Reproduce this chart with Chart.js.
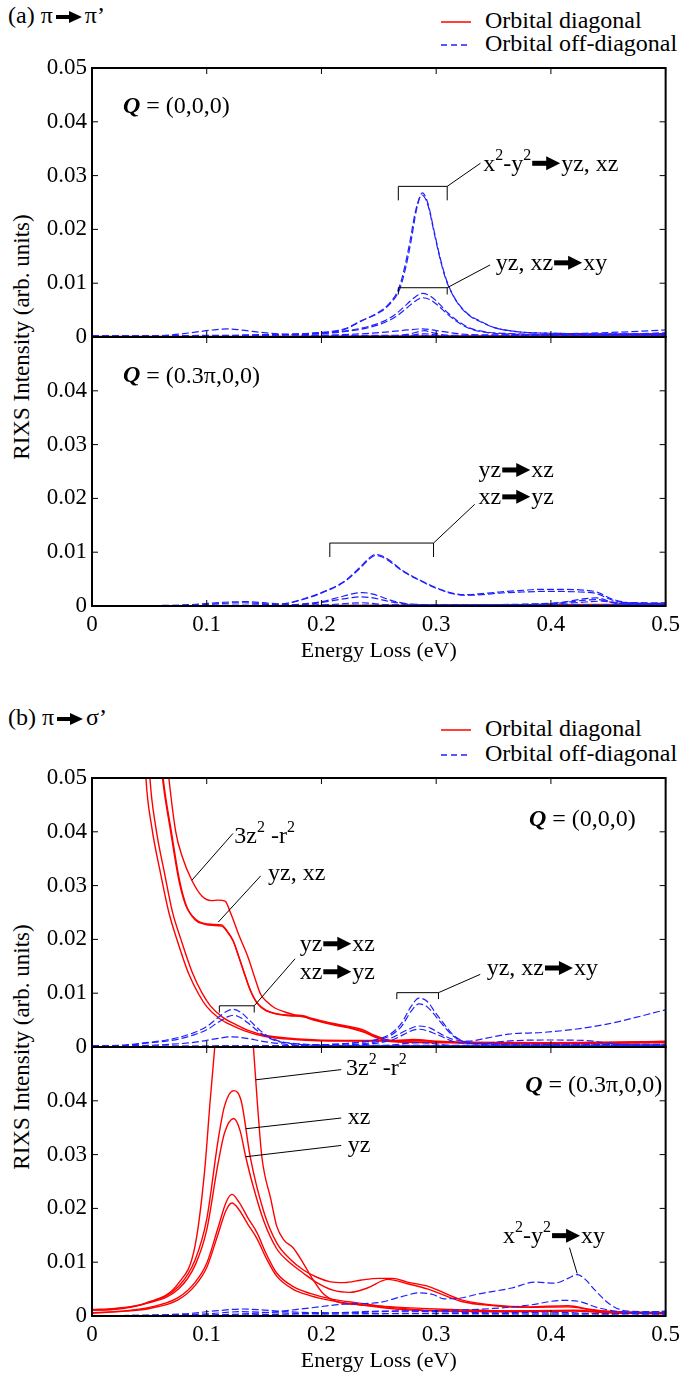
<!DOCTYPE html>
<html>
<head>
<meta charset="utf-8">
<script src="https://cdn.jsdelivr.net/npm/chart.js@4.4.1/dist/chart.umd.min.js"></script>
<style>
  body { margin: 0; background: #fff; width: 685px; height: 1376px; overflow: hidden; position: relative;
         font-family: 'Liberation Serif', 'Times New Roman', serif; color: #000; }
  .panel { position: absolute; left: 0; width: 685px; height: 668px; }
  .ttl { position: absolute; left: 8px; font-size: 24px; line-height: 24px; white-space: nowrap; }
  .ttl svg { vertical-align: -1px; margin: 0 2px; }
  .leg { position: absolute; left: 441px; font-size: 24px; line-height: 24px; white-space: nowrap; }
  .leg svg { vertical-align: middle; margin-right: 14px; }
  .ylab { position: absolute; left: 22px; font-size: 23px; white-space: nowrap;
          transform: translate(-50%, -50%) rotate(-90deg); }
</style>
</head>
<body>

<div class="ttl" style="top:3px">(a) π<svg width="28" height="14" viewBox="0 0 28 14"><rect x="1" y="5" width="15" height="4"/><polygon points="14,1 27,7 14,13"/></svg>π’</div>
<div class="leg" style="top:8px"><svg width="30" height="4"><line x1="0" y1="2" x2="30" y2="2" stroke="#ff0000" stroke-width="1.5"/></svg>Orbital diagonal</div>
<div class="leg" style="top:31px"><svg width="30" height="4"><line x1="0" y1="2" x2="30" y2="2" stroke="#2020ff" stroke-width="1.5" stroke-dasharray="6,4"/></svg>Orbital off-diagonal</div>
<div class="ylab" style="top:337px">RIXS Intensity (arb. units)</div>
<div class="panel" style="top:0"><canvas id="chartA" width="685" height="668"></canvas></div>

<div class="ttl" style="top:705px">(b) π<svg width="28" height="14" viewBox="0 0 28 14"><rect x="1" y="5" width="15" height="4"/><polygon points="14,1 27,7 14,13"/></svg>σ’</div>
<div class="leg" style="top:716px"><svg width="30" height="4"><line x1="0" y1="2" x2="30" y2="2" stroke="#ff0000" stroke-width="1.5"/></svg>Orbital diagonal</div>
<div class="leg" style="top:741px"><svg width="30" height="4"><line x1="0" y1="2" x2="30" y2="2" stroke="#2020ff" stroke-width="1.5" stroke-dasharray="6,4"/></svg>Orbital off-diagonal</div>
<div class="ylab" style="top:1047px">RIXS Intensity (arb. units)</div>
<div class="panel" style="top:710px"><canvas id="chartB" width="685" height="668"></canvas></div>

<script>
// tick labels
const xTickLabels = ['0', '0.1', '0.2', '0.3', '0.4', '0.5'];
const yTickLabels = ['0', '0.01', '0.02', '0.03', '0.04', '0.05'];

// ---------- (a) pi -> pi', Q = (0,0,0) ----------   [energy, intensity]
const aTopOff1 = [[0,0.0002],[0.1,0.0003],[0.15,0.0004],[0.2,0.00085],[0.22,0.0015],[0.2355,0.0031],[0.25,0.0045],[0.26,0.0062],[0.268,0.0088],[0.273,0.0125],[0.278,0.0177],[0.283,0.0238],[0.288,0.0268],[0.293,0.0247],[0.298,0.0199],[0.303,0.0151],[0.308,0.0112],[0.313,0.0085],[0.32,0.006],[0.33,0.0039],[0.337,0.0031],[0.35,0.0018],[0.37,0.001],[0.4,0.0007],[0.45,0.0006],[0.5,0.0006]];
const aTopOff2 = [[0,0.00015],[0.1,0.00025],[0.15,0.00035],[0.2,0.0008],[0.22,0.0014],[0.235,0.003],[0.249,0.0045],[0.259,0.0062],[0.267,0.0088],[0.272,0.0125],[0.277,0.0176],[0.282,0.0234],[0.2875,0.0264],[0.293,0.0244],[0.298,0.0196],[0.303,0.0149],[0.308,0.011],[0.313,0.0084],[0.32,0.0059],[0.33,0.0038],[0.337,0.003],[0.35,0.0018],[0.37,0.001],[0.4,0.0007],[0.45,0.0006],[0.5,0.0006]];
const aTopOff3 = [[0,0.0001],[0.1,0.0002],[0.15,0.0004],[0.2,0.0007],[0.22,0.0011],[0.24,0.0019],[0.255,0.003],[0.265,0.0043],[0.275,0.0062],[0.282,0.0075],[0.288,0.0081],[0.295,0.0076],[0.302,0.0063],[0.31,0.0045],[0.32,0.0028],[0.33,0.0016],[0.345,0.0009],[0.37,0.0006],[0.4,0.0005],[0.5,0.0005]];
const aTopOff4 = [[0,0.0001],[0.1,0.0002],[0.15,0.0003],[0.2,0.0006],[0.22,0.001],[0.24,0.0017],[0.255,0.0027],[0.265,0.0038],[0.275,0.0055],[0.282,0.0067],[0.288,0.0073],[0.295,0.0069],[0.302,0.0058],[0.31,0.0042],[0.32,0.0026],[0.33,0.0015],[0.345,0.0008],[0.37,0.0005],[0.4,0.0004],[0.5,0.0004]];
const aTopOff5 = [[0,0.00005],[0.15,0.0001],[0.2,0.0003],[0.25,0.0008],[0.27,0.0012],[0.288,0.0015],[0.3,0.0012],[0.32,0.0006],[0.35,0.0003],[0.4,0.0003],[0.5,0.0003]];
const aTopOff6 = [[0,0.0001],[0.05,0.0002],[0.07,0.0004],[0.09,0.0009],[0.105,0.0013],[0.118,0.0015],[0.13,0.0013],[0.15,0.0008],[0.17,0.0005],[0.19,0.0003],[0.22,0.0003],[0.26,0.0003],[0.3,0.0003],[0.35,0.0004],[0.4,0.0005],[0.43,0.0007],[0.46,0.0009],[0.5,0.0013]];
const aTopOff7 = [[0,0],[0.25,0.0002],[0.275,0.0005],[0.285,0.001],[0.29,0.0012],[0.295,0.0009],[0.31,0.0003],[0.35,0.0001],[0.5,0.0002]];
const aTopOff8 = [[0,0],[0.27,0.0001],[0.29,0.0006],[0.31,0.0001],[0.5,0.0001]];
const aTopOff9 = [[0,0.0001],[0.4,0.0002],[0.45,0.0004],[0.5,0.0008]];
const aTopDiag1 = [[0,0],[0.2,0.0001],[0.3,0.0002],[0.4,0.0002],[0.45,0.0003],[0.5,0.0006]];
const aTopDiag2 = [[0,0.0001],[0.3,0.0001],[0.5,0.0003]];

// ---------- (a) pi -> pi', Q = (0.3pi,0,0) ----------
const aBotOff1 = [[0,0],[0.1,0.0001],[0.15,0.0002],[0.17,0.0005],[0.187,0.0015],[0.2,0.0025],[0.22,0.0046],[0.235,0.0075],[0.241,0.0088],[0.247,0.0096],[0.253,0.0093],[0.26,0.0084],[0.27,0.0067],[0.287,0.0047],[0.3,0.0034],[0.314,0.0024],[0.325,0.0021],[0.34,0.0023],[0.355,0.0026],[0.375,0.0029],[0.39,0.0031],[0.41,0.0031],[0.425,0.003],[0.44,0.0026],[0.452,0.0014],[0.465,0.0007],[0.48,0.0005],[0.5,0.0004]];
const aBotOff2 = [[0,0],[0.1,0.0001],[0.15,0.0002],[0.17,0.0005],[0.187,0.0014],[0.2,0.0024],[0.22,0.0045],[0.235,0.0073],[0.241,0.0086],[0.247,0.0094],[0.253,0.0091],[0.26,0.0082],[0.27,0.0066],[0.287,0.0046],[0.3,0.0033],[0.314,0.0023],[0.325,0.002],[0.34,0.0021],[0.355,0.0024],[0.375,0.0026],[0.39,0.0027],[0.41,0.0027],[0.425,0.0026],[0.44,0.0023],[0.452,0.0012],[0.465,0.0006],[0.48,0.0004],[0.5,0.0004]];
const aBotOff3 = [[0,0],[0.15,0.0001],[0.18,0.0003],[0.2,0.0008],[0.215,0.0016],[0.228,0.0023],[0.236,0.0025],[0.245,0.0022],[0.26,0.0011],[0.275,0.0004],[0.3,0.0002],[0.35,0.0002],[0.4,0.0004],[0.44,0.0012],[0.45,0.0008],[0.47,0.0003],[0.5,0.0003]];
const aBotOff4 = [[0,0],[0.15,0.0001],[0.19,0.0004],[0.21,0.001],[0.225,0.0015],[0.235,0.0017],[0.245,0.0015],[0.26,0.0008],[0.28,0.0003],[0.35,0.0002],[0.42,0.0006],[0.445,0.0009],[0.46,0.0004],[0.5,0.0004]];
const aBotOff5 = [[0,0],[0.2,0.0002],[0.235,0.0006],[0.26,0.0002],[0.5,0.0002]];
const aBotOff6 = [[0,0],[0.06,0.0001],[0.09,0.0003],[0.115,0.0007],[0.135,0.0008],[0.155,0.0005],[0.175,0.0002],[0.2,0.0001],[0.3,0.0002],[0.4,0.0005],[0.44,0.0015],[0.455,0.0007],[0.5,0.0006]];
const aBotOff7 = [[0,0],[0.08,0.0001],[0.13,0.0006],[0.16,0.0003],[0.2,0.0001],[0.5,0.0003]];
const aBotDiag1 = [[0,0],[0.25,0.0001],[0.35,0.0002],[0.45,0.0003],[0.5,0.0005]];
const aBotDiag2 = [[0,0],[0.3,0.0001],[0.5,0.0002]];

// ---------- (b) pi -> sigma', Q = (0,0,0) ----------
const bTopDiag1 = [[0.058,0.07],[0.067,0.05],[0.073,0.04],[0.0786,0.0354],[0.087,0.031],[0.096,0.028],[0.104,0.0272],[0.11,0.0273],[0.116,0.0271],[0.121,0.0248],[0.128,0.0208],[0.136,0.0167],[0.142,0.0128],[0.147,0.0098],[0.153,0.0083],[0.159,0.0073],[0.168,0.0065],[0.176,0.006],[0.184,0.0058],[0.192,0.0053],[0.207,0.0045],[0.224,0.0038],[0.236,0.0032],[0.246,0.0022],[0.256,0.0014],[0.27,0.001],[0.3,0.0009],[0.35,0.0008],[0.4,0.0008],[0.45,0.0009],[0.5,0.001]];
const bTopDiag2 = [[0.055,0.065],[0.0614,0.05],[0.0686,0.04],[0.0757,0.031],[0.0814,0.0265],[0.09,0.0238],[0.097,0.023],[0.105,0.0228],[0.113,0.0227],[0.118,0.0215],[0.123,0.0198],[0.128,0.0168],[0.133,0.0136],[0.138,0.0106],[0.144,0.0082],[0.152,0.0068],[0.161,0.0062],[0.172,0.0059],[0.184,0.0057],[0.195,0.005],[0.213,0.0041],[0.227,0.0035],[0.238,0.0028],[0.247,0.0019],[0.26,0.0011],[0.3,0.0009],[0.4,0.0008],[0.5,0.0009]];
const bTopDiag3 = [[0.0556,0.065],[0.062,0.05],[0.0692,0.04],[0.0763,0.031],[0.082,0.0264],[0.09,0.0236],[0.097,0.0229],[0.105,0.0226],[0.113,0.0225],[0.118,0.0214],[0.123,0.0197],[0.128,0.0167],[0.133,0.0135],[0.138,0.0105],[0.144,0.0081],[0.152,0.0067],[0.161,0.0061],[0.172,0.0058],[0.184,0.0056],[0.195,0.0049],[0.213,0.004],[0.227,0.0034],[0.238,0.0027],[0.247,0.0018],[0.26,0.001],[0.3,0.0008],[0.4,0.0008],[0.5,0.0008]];
const bTopDiag4 = [[0.043,0.07],[0.047,0.05],[0.052,0.041],[0.06,0.032],[0.067,0.025],[0.0743,0.0198],[0.0843,0.0136],[0.093,0.0098],[0.1,0.0075],[0.111,0.0053],[0.122,0.004],[0.133,0.003],[0.15,0.002],[0.176,0.0014],[0.22,0.0011],[0.26,0.0011],[0.28,0.0014],[0.3,0.0011],[0.33,0.0008],[0.4,0.0007],[0.45,0.0008],[0.5,0.0011]];
const bTopDiag5 = [[0.046,0.07],[0.0505,0.05],[0.0555,0.041],[0.0635,0.032],[0.07,0.0252],[0.0775,0.02],[0.0875,0.0138],[0.096,0.01],[0.103,0.0077],[0.114,0.0055],[0.125,0.0042],[0.136,0.0031],[0.153,0.0021],[0.18,0.0015],[0.22,0.0012],[0.26,0.0012],[0.282,0.0012],[0.3,0.001],[0.33,0.0007],[0.4,0.0006],[0.45,0.0007],[0.5,0.0009]];
const bTopOff1 = [[0,0.0002],[0.03,0.0004],[0.047,0.0008],[0.065,0.0013],[0.076,0.0018],[0.088,0.0026],[0.1,0.0038],[0.11,0.0055],[0.118,0.0067],[0.123,0.007],[0.13,0.0064],[0.138,0.0048],[0.147,0.003],[0.155,0.0018],[0.163,0.0011],[0.18,0.0006],[0.2,0.0004],[0.25,0.0003],[0.3,0.0003],[0.4,0.0003],[0.5,0.0003]];
const bTopOff2 = [[0,0.0002],[0.03,0.0003],[0.047,0.0007],[0.065,0.0011],[0.076,0.0015],[0.088,0.0022],[0.1,0.0032],[0.11,0.0046],[0.118,0.0056],[0.123,0.0059],[0.13,0.0054],[0.138,0.0041],[0.147,0.0026],[0.155,0.0016],[0.163,0.001],[0.18,0.0005],[0.2,0.0003],[0.3,0.0002],[0.5,0.0002]];
const bTopOff3 = [[0,0.0001],[0.06,0.0004],[0.09,0.0009],[0.11,0.0016],[0.122,0.0019],[0.135,0.0016],[0.15,0.001],[0.17,0.0005],[0.2,0.0002],[0.3,0.0002],[0.5,0.0002]];
const bTopOff4 = [[0,0.0001],[0.15,0.0002],[0.2,0.0004],[0.23,0.0008],[0.25,0.0015],[0.26,0.0024],[0.27,0.0045],[0.278,0.0075],[0.285,0.0091],[0.292,0.0085],[0.3,0.0062],[0.305,0.0048],[0.315,0.0022],[0.325,0.001],[0.34,0.0006],[0.4,0.0005],[0.5,0.0005]];
const bTopOff5 = [[0,0.0001],[0.15,0.0002],[0.2,0.0004],[0.23,0.0008],[0.25,0.0014],[0.26,0.0021],[0.27,0.0039],[0.278,0.0066],[0.285,0.008],[0.292,0.0075],[0.3,0.0056],[0.305,0.0043],[0.315,0.002],[0.325,0.0009],[0.34,0.0005],[0.4,0.0004],[0.5,0.0004]];
const bTopOff6 = [[0,0.0001],[0.2,0.0003],[0.24,0.0007],[0.26,0.0016],[0.275,0.0032],[0.285,0.0039],[0.295,0.0035],[0.305,0.0023],[0.315,0.0014],[0.328,0.0011],[0.345,0.0017],[0.363,0.0024],[0.392,0.0027],[0.421,0.0033],[0.45,0.0043],[0.474,0.0055],[0.494,0.0066],[0.5,0.0069]];
const bTopOff7 = [[0,0.0001],[0.2,0.0002],[0.26,0.0012],[0.285,0.0033],[0.3,0.0024],[0.315,0.001],[0.33,0.0006],[0.37,0.0012],[0.4,0.0013],[0.43,0.0012],[0.46,0.0005],[0.5,0.0003]];
const bTopOff8 = [[0,0],[0.25,0.0002],[0.285,0.0008],[0.32,0.0002],[0.5,0.0002]];

// ---------- (b) pi -> sigma', Q = (0.3pi,0,0) ----------
const bBotDiag1 = [[0,0.0011],[0.018,0.0012],[0.047,0.0024],[0.0754,0.0061],[0.0897,0.0129],[0.098,0.0266],[0.103,0.04],[0.107,0.05],[0.112,0.065],[0.122,0.08],[0.135,0.065],[0.1407,0.05],[0.144,0.04],[0.148,0.0297],[0.156,0.0216],[0.161,0.0167],[0.167,0.0142],[0.1756,0.0126],[0.1842,0.0098],[0.1928,0.0067],[0.2014,0.0042],[0.213,0.0027],[0.233,0.0021],[0.262,0.0017],[0.3,0.0013],[0.35,0.001],[0.4,0.0009],[0.42,0.001],[0.45,0.0007],[0.5,0.0005]];
const bBotDiag2 = [[0,0.0012],[0.02,0.0014],[0.047,0.0024],[0.0754,0.0055],[0.09,0.0105],[0.1,0.018],[0.11,0.0328],[0.1155,0.039],[0.1235,0.0419],[0.13,0.04],[0.138,0.0295],[0.15,0.0192],[0.161,0.0136],[0.173,0.0105],[0.184,0.0086],[0.196,0.0072],[0.207,0.0064],[0.22,0.0062],[0.235,0.0067],[0.25,0.007],[0.262,0.007],[0.275,0.0063],[0.293,0.0055],[0.322,0.003],[0.351,0.002],[0.38,0.0017],[0.415,0.0019],[0.435,0.0012],[0.452,0.0008],[0.5,0.0006]];
const bBotDiag3 = [[0,0.0011],[0.02,0.0013],[0.047,0.0023],[0.0754,0.005],[0.09,0.0095],[0.1,0.016],[0.11,0.0285],[0.1155,0.034],[0.1235,0.0367],[0.129,0.0345],[0.134,0.0296],[0.14,0.0245],[0.15,0.0175],[0.161,0.0125],[0.173,0.0098],[0.184,0.008],[0.196,0.0062],[0.21,0.0048],[0.225,0.0044],[0.24,0.0052],[0.258,0.0068],[0.275,0.006],[0.293,0.005],[0.322,0.0027],[0.351,0.0019],[0.38,0.0016],[0.415,0.0017],[0.44,0.001],[0.5,0.0006]];
const bBotDiag4 = [[0,0.0006],[0.03,0.001],[0.05,0.0016],[0.075,0.0034],[0.09,0.0063],[0.1,0.0098],[0.11,0.0165],[0.117,0.0212],[0.122,0.0226],[0.128,0.0212],[0.136,0.0182],[0.144,0.0154],[0.152,0.0115],[0.161,0.008],[0.175,0.0055],[0.19,0.0042],[0.21,0.0031],[0.233,0.0024],[0.26,0.0016],[0.29,0.0011],[0.35,0.0009],[0.42,0.0011],[0.45,0.0007],[0.5,0.0005]];
const bBotDiag5 = [[0,0.0005],[0.03,0.0009],[0.05,0.0014],[0.075,0.003],[0.09,0.0057],[0.1,0.009],[0.11,0.0153],[0.117,0.0197],[0.122,0.021],[0.128,0.0198],[0.136,0.017],[0.144,0.0143],[0.152,0.0107],[0.161,0.0074],[0.175,0.005],[0.19,0.0038],[0.21,0.0028],[0.233,0.0021],[0.26,0.0014],[0.29,0.001],[0.35,0.0008],[0.42,0.0009],[0.45,0.0006],[0.5,0.0004]];
const bBotOff1 = [[0,0],[0.1,0.0002],[0.15,0.0006],[0.19,0.0015],[0.22,0.0022],[0.25,0.0025],[0.27,0.0036],[0.285,0.0043],[0.297,0.004],[0.307,0.0032],[0.32,0.0033],[0.337,0.0041],[0.366,0.0052],[0.386,0.0063],[0.403,0.0061],[0.415,0.007],[0.423,0.0077],[0.43,0.0068],[0.438,0.0049],[0.452,0.0021],[0.467,0.0009],[0.5,0.0008]];
const bBotOff2 = [[0,0],[0.1,0.0001],[0.2,0.0005],[0.25,0.0009],[0.3,0.001],[0.35,0.0014],[0.38,0.002],[0.41,0.0029],[0.425,0.0027],[0.44,0.0016],[0.46,0.0008],[0.5,0.0005]];
const bBotOff3 = [[0,0],[0.08,0.0004],[0.11,0.001],[0.13,0.0013],[0.15,0.0011],[0.18,0.0007],[0.22,0.0006],[0.27,0.0009],[0.3,0.0008],[0.35,0.0006],[0.4,0.0007],[0.45,0.0004],[0.5,0.0009]];
const bBotOff4 = [[0,0],[0.1,0.0004],[0.13,0.0008],[0.16,0.0006],[0.2,0.0004],[0.3,0.0005],[0.4,0.0004],[0.5,0.0005]];
const bBotOff5 = [[0,0],[0.2,0.0001],[0.5,0.0002]];

// which curves go where
const aTopOffList = [aTopOff1, aTopOff2, aTopOff3, aTopOff4, aTopOff5, aTopOff6, aTopOff7, aTopOff8, aTopOff9];
const aTopDiagList = [aTopDiag1, aTopDiag2];
const aBotOffList = [aBotOff1, aBotOff2, aBotOff3, aBotOff4, aBotOff5, aBotOff6, aBotOff7];
const aBotDiagList = [aBotDiag1, aBotDiag2];
const bTopOffList = [bTopOff1, bTopOff2, bTopOff3, bTopOff4, bTopOff5, bTopOff6, bTopOff7, bTopOff8];
const bTopDiagList = [bTopDiag1, bTopDiag2, bTopDiag3, bTopDiag4, bTopDiag5];
const bBotOffList = [bBotOff1, bBotOff2, bBotOff3, bBotOff4, bBotOff5];
const bBotDiagList = [bBotDiag1, bBotDiag2, bBotDiag3, bBotDiag4, bBotDiag5];

// labels, brackets and leader lines, in data units of each sub-panel
const aNotes = [
  {axis: 'yt', text: '*Q* = (0,0,0)', x: 0.027, y: 0.0428},
  {axis: 'yt', bracket: [0.267, 0.3096, 0.028, 0.0254]},
  {axis: 'yt', line: [0.3096, 0.028, 0.3386, 0.0323]},
  {axis: 'yt', text: 'x^{2}-y^{2}→yz, xz', x: 0.341, y: 0.0321},
  {axis: 'yt', bracket: [0.267, 0.3096, 0.00916, 0.0079]},
  {axis: 'yt', line: [0.3096, 0.00916, 0.347, 0.0134]},
  {axis: 'yt', text: 'yz, xz→xy', x: 0.352, y: 0.0136},
  {axis: 'yb', text: '*Q* = (0.3π,0,0)', x: 0.027, y: 0.0427},
  {axis: 'yb', bracket: [0.2073, 0.2977, 0.0117, 0.0091]},
  {axis: 'yb', line: [0.2977, 0.0117, 0.3336, 0.0189]},
  {axis: 'yb', text: 'yz→xz', x: 0.337, y: 0.0251},
  {axis: 'yb', text: 'xz→yz', x: 0.337, y: 0.0201}
];
const bNotes = [
  {axis: 'yt', text: '*Q* = (0,0,0)', x: 0.474, y: 0.0422, right: true},
  {axis: 'yt', line: [0.0871, 0.031, 0.1229, 0.0397]},
  {axis: 'yt', text: '3z^{2} -r^{2}', x: 0.124, y: 0.0391},
  {axis: 'yt', line: [0.11, 0.0232, 0.147, 0.0318]},
  {axis: 'yt', text: 'yz, xz', x: 0.1534, y: 0.0323},
  {axis: 'yt', bracket: [0.111, 0.1414, 0.00766, 0.0064]},
  {axis: 'yt', line: [0.1414, 0.00766, 0.177, 0.0164]},
  {axis: 'yt', text: 'yz→xz', x: 0.181, y: 0.019},
  {axis: 'yt', text: 'xz→yz', x: 0.181, y: 0.0138},
  {axis: 'yt', bracket: [0.2657, 0.302, 0.0101, 0.0089]},
  {axis: 'yt', line: [0.302, 0.0101, 0.3384, 0.0135]},
  {axis: 'yt', text: 'yz, xz→xy', x: 0.344, y: 0.0145},
  {axis: 'yb', text: '*Q* = (0.3π,0,0)', x: 0.497, y: 0.0428, right: true},
  {axis: 'yb', line: [0.1427, 0.0439, 0.2172, 0.0458]},
  {axis: 'yb', text: '3z^{2} -r^{2}', x: 0.2215, y: 0.0459},
  {axis: 'yb', line: [0.134, 0.0348, 0.2172, 0.0368]},
  {axis: 'yb', text: 'xz', x: 0.223, y: 0.0369},
  {axis: 'yb', line: [0.134, 0.0296, 0.2172, 0.0317]},
  {axis: 'yb', text: 'yz', x: 0.223, y: 0.0317},
  {axis: 'yb', line: [0.4162, 0.0127, 0.4229, 0.0079]},
  {axis: 'yb', text: 'x^{2}-y^{2}→xy', x: 0.3583, y: 0.01475}
];

const FONT = "'Liberation Serif', 'Times New Roman', serif";
const RED = '#ff0000';
const BLUE = '#2020ff';

function toSet(pts, axis, diag) {
  return {
    data: pts.map(p => ({x: p[0], y: p[1]})),
    yAxisID: axis,
    borderColor: diag ? RED : BLUE,
    borderWidth: diag ? 1.4 : 1.2,
    borderDash: diag ? [] : [7, 3],
    pointRadius: 0,
    fill: false,
    cubicInterpolationMode: 'monotone'
  };
}

// draw a label with ^{sup}, *bold italic* and the block arrow
function richText(ctx, str, x, y, right) {
  const size = 24;
  const parts = str.split(/(\^\{[^}]*\}|→|\*[^*]+\*)/).filter(s => s.length);
  const items = parts.map(p => {
    if (p === '→') return {arrow: true, w: 30};
    if (p.startsWith('^{')) return {t: p.slice(2, -1), font: `16px ${FONT}`, dy: -9};
    if (p.startsWith('*')) return {t: p.slice(1, -1), font: `italic bold ${size}px ${FONT}`, dy: 0};
    return {t: p, font: `${size}px ${FONT}`, dy: 0};
  });
  items.forEach(it => {
    if (!it.arrow) { ctx.font = it.font; it.w = ctx.measureText(it.t).width; }
  });
  const total = items.reduce((s, it) => s + it.w, 0);
  let cx = right ? x - total : x;
  ctx.textBaseline = 'middle';
  ctx.textAlign = 'left';
  ctx.fillStyle = '#000';
  items.forEach(it => {
    if (it.arrow) {
      const ay = y - 1;
      ctx.fillRect(cx + 1, ay - 2.5, 16, 5);
      ctx.beginPath();
      ctx.moveTo(cx + 15, ay - 7);
      ctx.lineTo(cx + 29, ay);
      ctx.lineTo(cx + 15, ay + 7);
      ctx.closePath();
      ctx.fill();
    } else {
      ctx.font = it.font;
      ctx.fillText(it.t, cx, y + it.dy);
    }
    cx += it.w;
  });
}

const notesPlugin = {
  id: 'notes',
  afterDatasetsDraw(chart, args, opts) {
    const ctx = chart.ctx;
    const xs = chart.scales.x;
    ctx.save();
    ctx.strokeStyle = '#000';
    ctx.lineWidth = 1;
    (opts.items || []).forEach(n => {
      const ys = chart.scales[n.axis];
      const px = v => xs.getPixelForValue(v);
      const py = v => ys.getPixelForValue(v);
      if (n.bracket) {
        const [x1, x2, y, y2] = n.bracket;
        ctx.beginPath();
        ctx.moveTo(px(x1), py(y2));
        ctx.lineTo(px(x1), py(y));
        ctx.lineTo(px(x2), py(y));
        ctx.lineTo(px(x2), py(y2));
        ctx.stroke();
      }
      if (n.line) {
        const [x1, y1, x2, y2] = n.line;
        ctx.beginPath();
        ctx.moveTo(px(x1), py(y1));
        ctx.lineTo(px(x2), py(y2));
        ctx.stroke();
      }
      if (n.text) richText(ctx, n.text, px(n.x), py(n.y), n.right);
    });
    ctx.restore();
  }
};

// box round each sub-panel, ticks pointing inwards
const framePlugin = {
  id: 'frame',
  afterDraw(chart) {
    const ctx = chart.ctx, a = chart.chartArea, xs = chart.scales.x;
    const seg = (x1, y1, x2, y2) => { ctx.beginPath(); ctx.moveTo(x1, y1); ctx.lineTo(x2, y2); ctx.stroke(); };
    ctx.save();
    ctx.strokeStyle = '#000';
    ['yt', 'yb'].forEach(id => {
      const s = chart.scales[id];
      ctx.lineWidth = 1;
      s.ticks.forEach(t => {
        const y = s.getPixelForValue(t.value);
        seg(a.left, y, a.left + 6, y);
        seg(a.right - 6, y, a.right, y);
      });
      xs.ticks.forEach(t => {
        const x = xs.getPixelForValue(t.value);
        seg(x, s.top, x, s.top + 6);
        seg(x, s.bottom - 6, x, s.bottom);
      });
      ctx.lineWidth = 2;
      ctx.strokeRect(a.left, s.top, a.right - a.left, s.bottom - s.top);
    });
    ctx.restore();
  }
};

function yScale(hideTop) {
  return {
    type: 'linear', position: 'left', stack: 'panel', stackWeight: 1,
    min: 0, max: 0.05,
    grid: {display: false, drawTicks: false},
    border: {display: false},
    ticks: {
      stepSize: 0.01, padding: 5, autoSkip: false, color: '#000', font: {family: FONT, size: 23},
      callback: v => {
        const i = Math.round(v * 100);
        return (hideTop && i === 5) ? '' : yTickLabels[i];
      }
    },
    afterFit: s => { s.width = 92; }
  };
}

function makePanel(id, topOff, topDiag, botOff, botDiag, notes) {
  const sets = [];
  topOff.forEach(c => sets.push(toSet(c, 'yt', false)));
  botOff.forEach(c => sets.push(toSet(c, 'yb', false)));
  topDiag.forEach(c => sets.push(toSet(c, 'yt', true)));
  botDiag.forEach(c => sets.push(toSet(c, 'yb', true)));
  return new Chart(document.getElementById(id), {
    type: 'line',
    data: {datasets: sets},
    options: {
      responsive: false,
      animation: false,
      devicePixelRatio: 1,
      layout: {padding: {top: 68, right: 12, bottom: 0, left: 0}},
      plugins: {legend: {display: false}, tooltip: {enabled: false}, notes: {items: notes}},
      scales: {
        x: {
          type: 'linear', min: 0, max: 0.5,
          grid: {display: false, drawTicks: false},
          border: {display: false},
          ticks: {stepSize: 0.1, padding: 5, autoSkip: false, maxRotation: 0, color: '#000', font: {family: FONT, size: 23},
                  callback: v => xTickLabels[Math.round(v * 10)]},
          title: {display: true, text: 'Energy Loss (eV)', color: '#000', font: {family: FONT, size: 22},
                  padding: {top: 2, bottom: 4}},
          afterFit: s => { s.height = 62; }
        },
        yb: yScale(true),
        yt: yScale(false)
      }
    },
    plugins: [notesPlugin, framePlugin]
  });
}

makePanel('chartA', aTopOffList, aTopDiagList, aBotOffList, aBotDiagList, aNotes);
makePanel('chartB', bTopOffList, bTopDiagList, bBotOffList, bBotDiagList, bNotes);
</script>
</body>
</html>
